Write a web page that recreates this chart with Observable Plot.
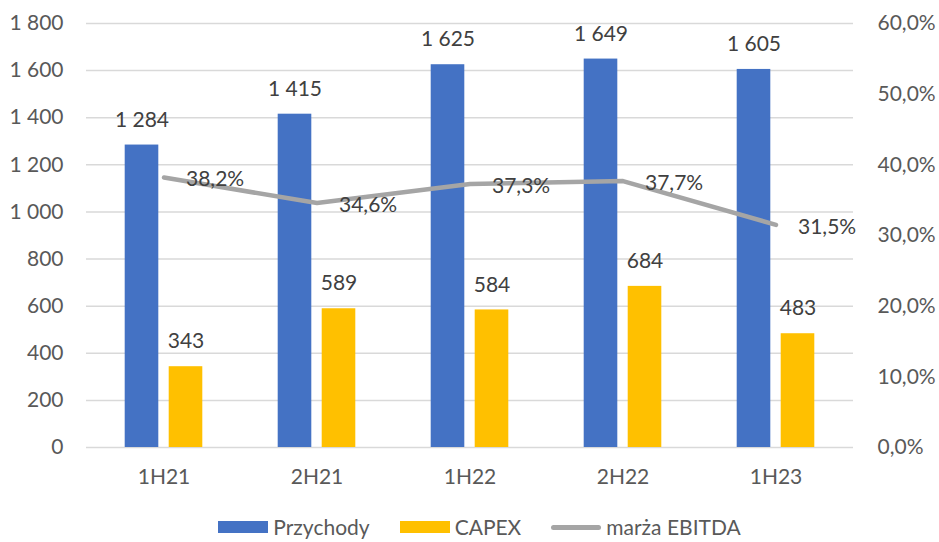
<!DOCTYPE html>
<html>
<head>
<meta charset="utf-8">
<script src="https://cdn.jsdelivr.net/npm/d3@7"></script>
<script src="https://cdn.jsdelivr.net/npm/@observablehq/plot@0.6"></script>
<style>
  html, body { margin: 0; padding: 0; background: #fff; }
  #wrap { position: relative; width: 939px; height: 542px; overflow: hidden; font-family: Lato, "Open Sans", sans-serif; }
  #legend { position: absolute; left: 0; top: 514px; width: 939px; height: 26px; line-height: 24px; display: flex; align-items: center; justify-content: center; font-size: 21px; color: #595959; padding-left: 20px; box-sizing: border-box; }
  .item { display: flex; align-items: center; margin: 0 15px; }
  .sw { width: 50px; height: 12px; margin-right: 5px; }
  .ln { width: 50px; height: 5px; border-radius: 3px; background: #A5A5A5; margin-right: 5px; }
</style>
</head>
<body>
<div id="wrap"><div id="chart"></div><div id="legend"></div></div>
<script>
const categories = ["1H21", "2H21", "1H22", "2H22", "1H23"];
const przychody = [1284, 1415, 1625, 1649, 1605];
const capex = [343, 589, 584, 684, 483];
const marzaEbitda = [38.2, 34.6, 37.3, 37.7, 31.5];
const leftTicks = [0, 200, 400, 600, 800, 1000, 1200, 1400, 1600, 1800];
const rightTicks = [0, 10, 20, 30, 40, 50, 60];
const seriesNames = ["Przychody", "CAPEX", "marża EBITDA"];
const colors = ["#4472C4", "#FFC000", "#A5A5A5"];

const ratio = 1800 / 60;
const locale = d3.formatLocale({decimal: ",", thousands: " ", grouping: [3], currency: ["", ""]});
const fmtInt = locale.format(",");
const fmtPct = locale.format(".1f");

const data = categories.map((c, i) => ({cat: c, rev: przychody[i], capex: capex[i], m: marzaEbitda[i]}));

const W = 939, H = 505;
const barW = 34;
const band = (W - 86 - 86) / categories.length;
const inset = (band - barW) / 2;

const chart = Plot.plot({
  width: W,
  height: H,
  marginLeft: 86,
  marginRight: 86,
  marginTop: 23,
  marginBottom: H - 447,
  style: {fontFamily: "Lato, 'Open Sans', sans-serif", fontSize: "21px", color: "#595959", background: "#fff"},
  x: {domain: categories, padding: 0, label: null},
  y: {domain: [0, 1800], label: null},
  marks: [
    Plot.ruleY(leftTicks, {stroke: "#D9D9D9", strokeWidth: 1.5}),
    Plot.axisY(leftTicks, {anchor: "left", tickSize: 0, tickPadding: 23, tickFormat: fmtInt, label: null, fontSize: 21}),
    Plot.axisY(rightTicks.map(d => d * ratio), {anchor: "right", tickSize: 0, tickPadding: 24, tickFormat: d => fmtPct(d / ratio) + "%", label: null, fontSize: 21}),
    Plot.axisX({tickSize: 0, tickPadding: 22, label: null, fontSize: 21}),
    Plot.barY(data, {x: "cat", y: "rev", fill: colors[0], dx: -22, insetLeft: inset, insetRight: inset}),
    Plot.barY(data, {x: "cat", y: "capex", fill: colors[1], dx: 22, insetLeft: inset, insetRight: inset}),
    Plot.line(data, {x: "cat", y: d => d.m * ratio, stroke: colors[2], strokeWidth: 4.5}),
    Plot.text(data, {x: "cat", y: "rev", text: d => fmtInt(d.rev), dx: -22, dy: -25, fill: "#404040", fontSize: 21}),
    Plot.text(data, {x: "cat", y: "capex", text: d => fmtInt(d.capex), dx: 22, dy: -25, fill: "#404040", fontSize: 21}),
    Plot.text(data, {x: "cat", y: d => d.m * ratio, text: d => fmtPct(d.m) + "%", dx: 22, dy: 2, textAnchor: "start", fill: "#404040", fontSize: 21})
  ]
});
document.getElementById("chart").appendChild(chart);

const legend = document.getElementById("legend");
seriesNames.forEach((name, i) => {
  const item = document.createElement("div");
  item.className = "item";
  const sw = document.createElement("div");
  if (i < 2) { sw.className = "sw"; sw.style.background = colors[i]; }
  else { sw.className = "ln"; }
  const t = document.createElement("span");
  t.textContent = name;
  item.appendChild(sw);
  item.appendChild(t);
  legend.appendChild(item);
});
</script>
</body>
</html>
